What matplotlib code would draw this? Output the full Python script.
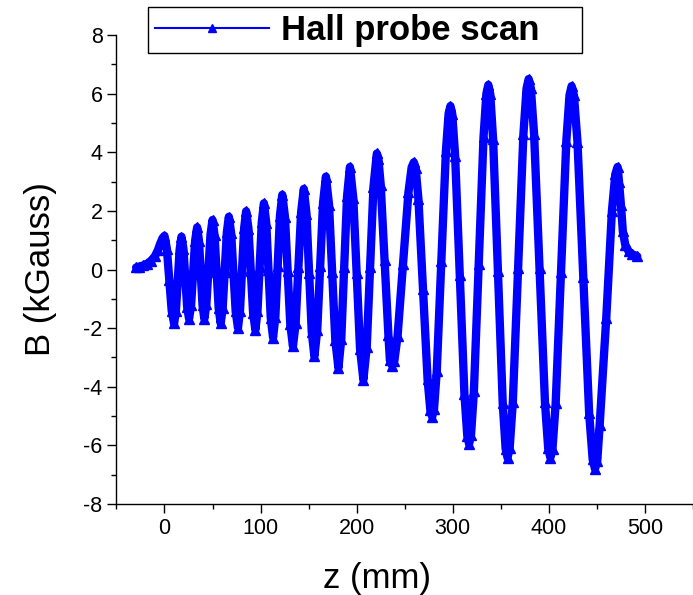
import matplotlib
matplotlib.use("Agg")
import matplotlib.pyplot as plt
from matplotlib.ticker import MultipleLocator

plt.rcParams['font.family'] = ['Liberation Sans', 'DejaVu Sans']
plt.rcParams['axes.unicode_minus'] = False

# Hall probe scan (z in mm, B in kGauss)
z_mm = [
    -29.5, -26, -22, -18, -14, -10, -7, -4.5, -2,
    0, 2.5, 5, 7.5,
    10, 11.9, 13.85, 15.8,
    17.7, 19.7, 21.65, 23.6,
    25.6, 27.7, 29.8, 31.9,
    34, 35.9, 37.75, 39.6,
    41.5, 43.6, 45.75, 47.9,
    50, 52.1, 54.25, 56.4,
    58.5, 60.6, 62.75, 64.9,
    67, 69.4, 71.75, 74.1,
    76.5, 78.6, 80.75, 82.9,
    85, 87.4, 89.8, 92.2,
    94.6, 96.8, 99.05, 101.3,
    103.5, 105.9, 108.25, 110.6,
    113, 115.4, 117.8, 120.2,
    122.6, 125.4, 128.15, 130.9,
    133.7, 136.5, 139.35, 142.2,
    145, 147.75, 150.5, 153.25,
    156, 159, 162, 165,
    168, 171.25, 174.5, 177.75,
    181, 184, 187, 190,
    193, 196.5, 200, 203.5,
    207, 210.5, 214, 217.5,
    221, 222.6, 225, 229, 233, 234.6,
    237, 239.25, 242.6, 248.25, 253.9, 257.25,
    259.5, 261.4, 264.3, 269.05, 273.8, 276.7,
    278.6, 280.5, 283.35, 288.1, 292.85, 295.7,
    297.6, 299.5, 302.45, 307.3, 312.15, 315.1,
    317, 319, 322, 327, 332, 335,
    337, 339, 342, 347, 352, 355,
    357, 359.2, 362.5, 368, 373.5, 376.8,
    379, 381.3, 384.65, 390.3, 395.95, 399.3,
    401.6, 403.8, 407.1, 412.65, 418.2, 421.5,
    423.7, 426.1, 429.8, 435.85, 441.9, 445.6,
    448, 450.35, 452.9, 459.75, 465.6, 469.15,
    471.5, 473, 475, 477, 479.5, 483, 487, 492,
]
b_kgauss = [
    0.07, 0.1, 0.14, 0.2, 0.3, 0.45, 0.65, 0.88, 1.07,
    1.15, 0.71, -0.35, -1.40,
    -1.84, -1.41, -0.36, 0.69,
    1.12, 0.71, -0.28, -1.27,
    -1.68, -1.22, -0.12, 0.98,
    1.44, 0.98, -0.12, -1.22,
    -1.68, -1.19, 0.0, 1.19,
    1.69, 1.17, -0.08, -1.32,
    -1.84, -1.31, -0.02, 1.27,
    1.8, 1.24, -0.1, -1.43,
    -1.99, -1.41, 0.0, 1.41,
    1.99, 1.40, -0.04, -1.47,
    -2.06, -1.43, 0.1, 1.63,
    2.26, 1.59, -0.03, -1.65,
    -2.32, -1.61, 0.12, 1.84,
    2.55, 1.79, -0.04, -1.86,
    -2.62, -1.83, 0.07, 1.96,
    2.75, 1.91, -0.11, -2.12,
    -2.96, -2.06, 0.11, 2.27,
    3.17, 2.21, -0.1, -2.4,
    -3.36, -2.36, 0.07, 2.5,
    3.5, 2.44, -0.13, -2.7,
    -3.76, -2.63, 0.1, 2.83,
    3.96, 3.78, 2.90, 0.34, -2.22, -3.10,
    -3.28, -3.11, -2.26, 0.19, 2.64, 3.49,
    3.66, 3.45, 2.39, -0.68, -3.75, -4.81,
    -5.02, -4.76, -3.47, 0.28, 4.03, 5.32,
    5.58, 5.30, 3.89, -0.19, -4.26, -5.67,
    -5.95, -5.65, -4.16, 0.18, 4.51, 6.0,
    6.3, 5.99, 4.44, -0.06, -4.56, -6.11,
    -6.42, -6.10, -4.53, 0.04, 4.61, 6.18,
    6.5, 6.18, 4.61, 0.04, -4.53, -6.10,
    -6.42, -6.11, -4.56, -0.08, 4.40, 5.95,
    6.26, 5.94, 4.35, -0.27, -4.89, -6.48,
    -6.8, -6.55, -5.29, -1.65, 1.99, 3.25,
    3.5, 3.0, 2.2, 1.3, 0.85, 0.62, 0.52, 0.45,
]

fig = plt.figure(figsize=(6.93, 5.95), dpi=100)
ax = fig.add_axes([0.168, 0.153, 0.832, 0.788])

# thick band made by the dense markers in the original
ax.plot(z_mm, b_kgauss, color='#0000ff', lw=6,
        solid_joinstyle='round', solid_capstyle='round')
ax.plot(z_mm, b_kgauss, color='#0000ff', lw=1.5, marker='^', ms=7,
        label='Hall probe scan')

ax.set_xlim(-50, 550)
ax.set_ylim(-8, 8)
ax.xaxis.set_major_locator(MultipleLocator(100))
ax.xaxis.set_minor_locator(MultipleLocator(50))
ax.yaxis.set_major_locator(MultipleLocator(2))
ax.yaxis.set_minor_locator(MultipleLocator(1))
ax.tick_params(which='major', direction='out', length=6.5, width=1, labelsize=15.5)
ax.tick_params(which='minor', direction='out', length=3.5, width=1)
for s in ['top', 'right']:
    ax.spines[s].set_visible(False)
for s in ['left', 'bottom']:
    ax.spines[s].set_linewidth(1)

ax.set_xlabel('z (mm)', fontsize=25)
ax.set_ylabel('B (kGauss)', fontsize=25)
ax.xaxis.set_label_coords(0.452, -0.124)
ax.yaxis.set_label_coords(-0.103, 0.5)

leg = ax.legend(loc='upper left', bbox_to_anchor=(0.2136, 0.899, 0.6262, 0.089),
                bbox_transform=fig.transFigure, mode='expand', borderaxespad=0,
                borderpad=0.19, handlelength=3.3, handletextpad=0.34,
                fancybox=False, framealpha=1, edgecolor='black',
                prop={'weight': 'bold', 'size': 25})
leg.get_frame().set_linewidth(1)
leg.legend_handles[0].set_markersize(6)

plt.savefig('out.png', dpi=100)
